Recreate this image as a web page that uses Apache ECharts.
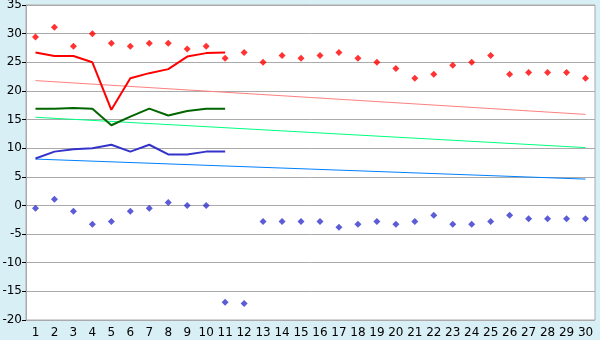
<!DOCTYPE html>
<html><head><meta charset="utf-8">
<script src="https://cdn.jsdelivr.net/npm/echarts@6/dist/echarts.min.js"></script>
<style>html,body{margin:0;padding:0;background:#d9eff6;}#c{width:600px;height:340px;}</style>
</head><body><div id="c"></div>
<script>
var categories = ['1','2','3','4','5','6','7','8','9','10','11','12','13','14','15','16','17','18','19','20','21','22','23','24','25','26','27','28','29','30'];
var yTicks = { min: -20, max: 35, interval: 5 };
var maxPoints = [29.4,31.1,27.8,30.0,28.3,27.8,28.3,28.3,27.3,27.8,25.7,26.7,25.0,26.2,25.7,26.2,26.7,25.7,25.0,23.9,22.2,22.9,24.5,25.0,26.2,22.9,23.2,23.2,23.2,22.2];
var minPoints = [-0.5,1.1,-1.0,-3.3,-2.8,-1.0,-0.5,0.5,0.0,0.0,-16.9,-17.1,-2.8,-2.8,-2.8,-2.8,-3.8,-3.3,-2.8,-3.3,-2.8,-1.7,-3.3,-3.3,-2.8,-1.7,-2.3,-2.3,-2.3,-2.3];
var maxLine = [26.7,26.1,26.1,25.0,16.7,22.2,23.1,23.8,26.0,26.6,26.7];
var meanLine = [16.9,16.9,17.0,16.9,14.0,15.5,16.9,15.7,16.5,16.9,16.9];
var minLine = [8.2,9.4,9.8,10.0,10.6,9.4,10.6,8.9,8.9,9.4,9.4];
var maxTrendEnds = [21.8, 15.9];
var meanTrendEnds = [15.4, 10.1];
var minTrendEnds = [8.1, 4.6];

function trend(ends){
  var d = categories.map(function(){return null;});
  d[0] = ends[0]; d[categories.length-1] = ends[1];
  return d;
}
function lineSeries(data,color,width,z){
  return {type:'line',data:data,symbol:'none',connectNulls:true,silent:true,z:z,
    lineStyle:{color:color,width:width},itemStyle:{color:color}};
}
function scatter(data,color){
  return {type:'scatter',data:data,symbol:'diamond',symbolSize:7,z:10,itemStyle:{color:color}};
}
var chart = echarts.init(document.getElementById('c'),null,{renderer:'canvas'});
chart.setOption({
  backgroundColor:'#d9eff6',
  animation:false,
  grid:{left:26,right:5,top:5,bottom:20,show:true,containLabel:false,outerBoundsMode:'none',
    backgroundColor:'#ffffff',borderColor:'#aaaaaa',borderWidth:1},
  xAxis:{type:'category',data:categories,boundaryGap:true,
    axisLine:{lineStyle:{color:'#aaaaaa'}},
    axisTick:{alignWithLabel:true,length:5,lineStyle:{color:'#000'}},
    axisLabel:{color:'#000',fontSize:12,fontFamily:'DejaVu Sans',margin:7,interval:0},
    splitLine:{show:false}},
  yAxis:{type:'value',min:yTicks.min,max:yTicks.max,interval:yTicks.interval,
    axisLine:{show:true,lineStyle:{color:'#aaaaaa'}},
    axisTick:{show:true,length:4,lineStyle:{color:'#000'}},
    axisLabel:{color:'#000',fontSize:12,fontFamily:'DejaVu Sans',margin:4},
    splitLine:{lineStyle:{color:'#aaaaaa',width:1}}},
  series:[
    lineSeries(trend(maxTrendEnds),'#ff8080',1,2),
    lineSeries(trend(meanTrendEnds),'#00ff80',1,2),
    lineSeries(trend(minTrendEnds),'#0080ff',1,2),
    lineSeries(maxLine,'#ff0000',2,5),
    lineSeries(meanLine,'#006600',2,5),
    lineSeries(minLine,'#3333cc',2,5),
    scatter(maxPoints,'#ff0000'),
    scatter(minPoints,'#3333cc')
  ]
});
</script></body></html>
